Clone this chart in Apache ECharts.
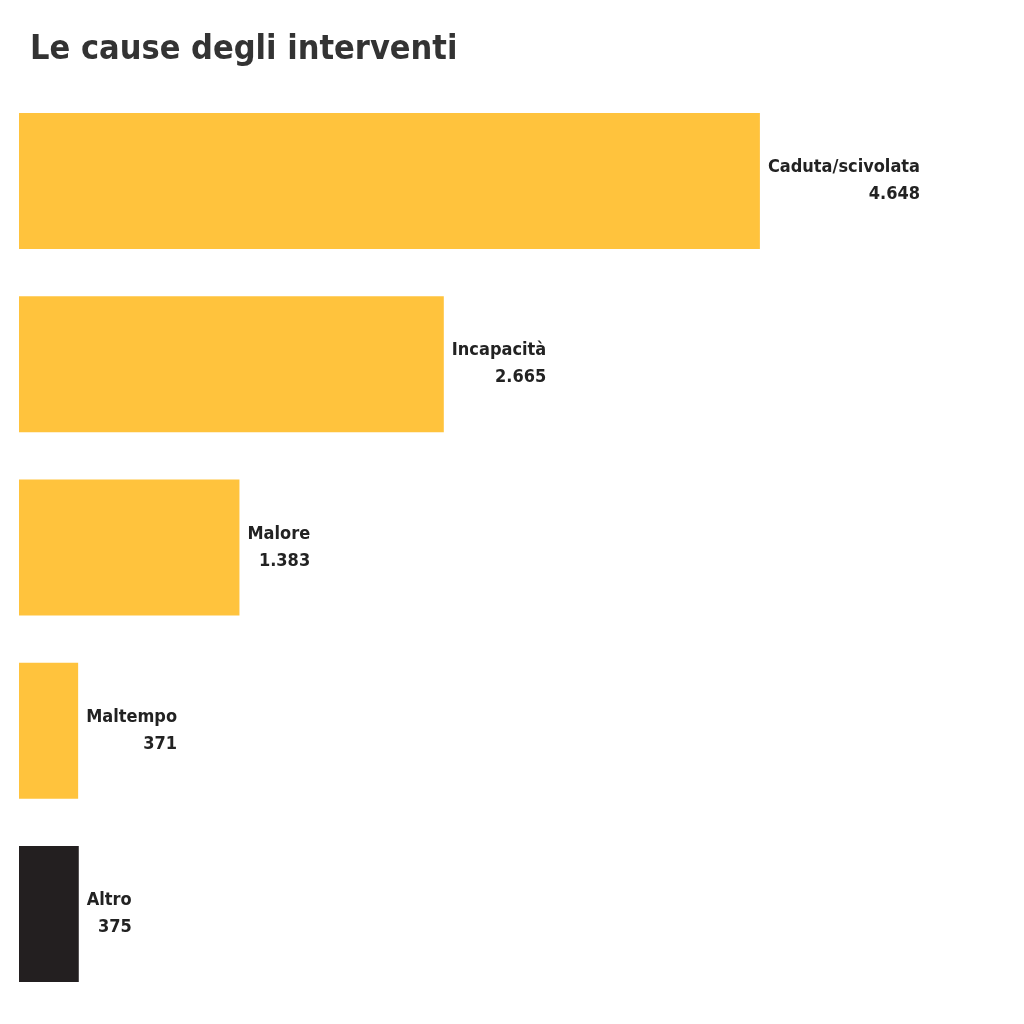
<!DOCTYPE html>
<html><head><meta charset="utf-8">
<script src="https://cdn.jsdelivr.net/npm/echarts@6/dist/echarts.min.js"></script>
<style>html,body{margin:0;padding:0;background:#fff}#c{width:1024px;height:1024px}</style>
</head><body><div id="c"></div>
<script>
const categories = ['Caduta/scivolata','Incapacità','Malore','Maltempo','Altro'];
const values = [4648, 2665, 1383, 371, 375];
const valueLabels = ['4.648','2.665','1.383','371','375'];
const colors = ['#FFC33D','#FFC33D','#FFC33D','#FFC33D','#231F20'];
const chart = echarts.init(document.getElementById('c'));
chart.setOption({
  animation:false,
  backgroundColor:'#fff',
  title:{text:'Le cause degli interventi',left:25,top:28,textStyle:{fontFamily:'DejaVu Sans Condensed',fontWeight:'bold',fontSize:34,color:'#333'}},
  grid:{left:19,right:208,top:89.5,bottom:18.5},
  xAxis:{type:'value',min:0,max:5000,show:false},
  yAxis:{type:'category',inverse:true,data:categories,show:false},
  series:[{type:'bar',barWidth:136,
    data:values.map((v,i)=>({value:v,itemStyle:{color:colors[i]}})),
    label:{show:true,position:'right',distance:8,
      formatter:p=>'{n|'+categories[p.dataIndex]+'}\n{n|'+valueLabels[p.dataIndex]+'}',
      rich:{n:{align:'right',fontFamily:'DejaVu Sans Condensed',fontWeight:'bold',fontSize:18,lineHeight:27,color:'#222'}}}
  }]
});
</script></body></html>
